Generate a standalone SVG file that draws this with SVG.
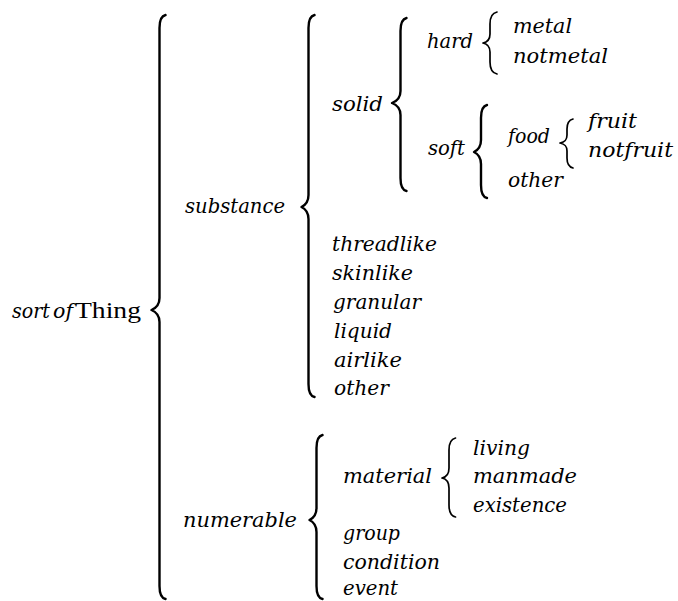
<svg xmlns="http://www.w3.org/2000/svg" width="678" height="601" viewBox="0 0 678 601">
<style>
  .t { font-family: "DejaVu Serif", "Liberation Serif", serif; font-size: 20px; font-style: italic; fill: #000; }
  .r { font-family: "Liberation Serif", "DejaVu Serif", serif; font-size: 23px; font-style: normal; }
  .big { fill: none; stroke: #000; stroke-width: 2.4; stroke-linecap: round; stroke-linejoin: round; }
  .small { fill: none; stroke: #000; stroke-width: 1.7; stroke-linecap: round; stroke-linejoin: round; }
</style>
<rect x="0" y="0" width="678" height="601" fill="#fff"/>
<g id="connectors">
  <path class="big" d="M 165.5 15 C 161 16 159.5 20 159.5 28 L 159.5 298 C 159.5 305 155 308.5 151.5 310 C 155 311.5 159.5 315 159.5 322 L 159.5 586 C 159.5 594 161 598 165.5 599"/>
  <path class="big" d="M 314.5 15 C 310 16 308.5 20 308.5 28 L 308.5 195 C 308.5 202 304.5 205.5 301.5 207 C 304.5 208.5 308.5 212 308.5 219 L 308.5 384 C 308.5 392 310 396 314.5 397"/>
  <path class="big" d="M 406.5 18 C 402 19 400.5 23 400.5 31 L 400.5 91 C 400.5 98 396 101.5 392 103 C 396 104.5 400.5 108 400.5 115 L 400.5 178 C 400.5 186 402 190 406.5 191"/>
  <path class="big" d="M 487 105 C 482.5 106 481 110 481 118 L 481 140 C 481 147 477 150.5 474 152 C 477 153.5 481 157 481 164 L 481 185 C 481 193 482.5 197 487 198"/>
  <path class="big" d="M 322.5 435 C 318 436 316.5 440 316.5 448 L 316.5 508 C 316.5 515 312.5 518.5 309.5 520 C 312.5 521.5 316.5 525 316.5 532 L 316.5 586 C 316.5 594 318 598 322.5 599"/>
  <path class="small" d="M 497 12 C 492 13 490 17 490 24 L 490 34 C 490 39 488 42 483 43 C 488 44 490 47 490 52 L 490 62 C 490 69 492 73 497 74"/>
  <path class="small" d="M 573 119 C 569 120 567 123 567 129 L 567 135 C 567 140 565 142 560 143 C 565 144 567 146 567 151 L 567 158 C 567 164 569 167 573 168"/>
  <path class="small" d="M 455.5 438 C 451 439 449 443 449 450 L 449 468 C 449 474 447 477 442 478 C 447 479 449 482 449 488 L 449 505 C 449 512 451 516 455.5 517"/>
</g>
<g id="n-sortofthing"><text class="t" y="318"><tspan x="12" textLength="38" lengthAdjust="spacingAndGlyphs">sort</tspan> <tspan x="53" textLength="20" lengthAdjust="spacingAndGlyphs">of</tspan> <tspan class="r" x="75" textLength="66" lengthAdjust="spacingAndGlyphs">Thing</tspan></text></g>
<g id="n-substance"><text class="t" x="185" y="213" textLength="100" lengthAdjust="spacingAndGlyphs">substance</text></g>
<g id="n-numerable"><text class="t" x="183" y="527" textLength="114" lengthAdjust="spacingAndGlyphs">numerable</text></g>
<g id="n-solid"><text class="t" x="332" y="111" textLength="51" lengthAdjust="spacingAndGlyphs">solid</text></g>
<g id="n-hard"><text class="t" x="427" y="48" textLength="46" lengthAdjust="spacingAndGlyphs">hard</text></g>
<g id="n-metal"><text class="t" x="513" y="33" textLength="59" lengthAdjust="spacingAndGlyphs">metal</text></g>
<g id="n-notmetal"><text class="t" x="513" y="63" textLength="95" lengthAdjust="spacingAndGlyphs">notmetal</text></g>
<g id="n-soft"><text class="t" x="428" y="155" textLength="37" lengthAdjust="spacingAndGlyphs">soft</text></g>
<g id="n-food"><text class="t" x="508" y="143" textLength="42" lengthAdjust="spacingAndGlyphs">food</text></g>
<g id="n-fruit"><text class="t" x="588" y="128" textLength="49" lengthAdjust="spacingAndGlyphs">fruit</text></g>
<g id="n-notfruit"><text class="t" x="588" y="157" textLength="85" lengthAdjust="spacingAndGlyphs">notfruit</text></g>
<g id="n-other-soft"><text class="t" x="508" y="187" textLength="55" lengthAdjust="spacingAndGlyphs">other</text></g>
<g id="n-threadlike"><text class="t" x="332" y="251" textLength="105" lengthAdjust="spacingAndGlyphs">threadlike</text></g>
<g id="n-skinlike"><text class="t" x="332" y="280" textLength="81" lengthAdjust="spacingAndGlyphs">skinlike</text></g>
<g id="n-granular"><text class="t" x="333" y="309" textLength="88" lengthAdjust="spacingAndGlyphs">granular</text></g>
<g id="n-liquid"><text class="t" x="334" y="338" textLength="58" lengthAdjust="spacingAndGlyphs">liquid</text></g>
<g id="n-airlike"><text class="t" x="334" y="367" textLength="68" lengthAdjust="spacingAndGlyphs">airlike</text></g>
<g id="n-other-substance"><text class="t" x="334" y="395" textLength="55" lengthAdjust="spacingAndGlyphs">other</text></g>
<g id="n-material"><text class="t" x="343" y="483" textLength="89" lengthAdjust="spacingAndGlyphs">material</text></g>
<g id="n-living"><text class="t" x="473" y="455" textLength="57" lengthAdjust="spacingAndGlyphs">living</text></g>
<g id="n-manmade"><text class="t" x="473" y="483" textLength="104" lengthAdjust="spacingAndGlyphs">manmade</text></g>
<g id="n-existence"><text class="t" x="473" y="512" textLength="94" lengthAdjust="spacingAndGlyphs">existence</text></g>
<g id="n-group"><text class="t" x="343" y="540" textLength="57" lengthAdjust="spacingAndGlyphs">group</text></g>
<g id="n-condition"><text class="t" x="343" y="569" textLength="97" lengthAdjust="spacingAndGlyphs">condition</text></g>
<g id="n-event"><text class="t" x="343" y="595" textLength="55" lengthAdjust="spacingAndGlyphs">event</text></g>
</svg>
